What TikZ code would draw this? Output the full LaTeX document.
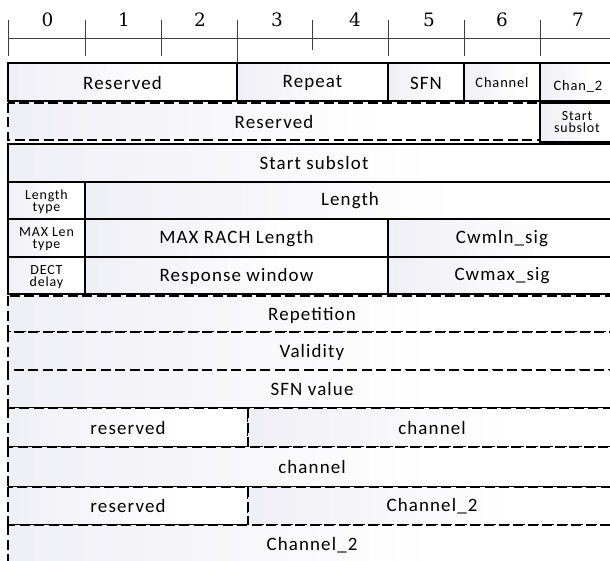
\documentclass[tikz,border=0pt]{standalone}
\usepackage{fontspec}
\newfontfamily\lab[LetterSpace=6]{Carlito}
\newfontfamily\numf{DejaVu Serif}
\definecolor{shd}{RGB}{222,222,236}
\pgfdeclarehorizontalshading{cellshade}{100bp}{color(0bp)=(shd); color(25bp)=(shd!50!white); color(60bp)=(white); color(100bp)=(white)}
\begin{document}
\begin{tikzpicture}[x=1bp,y=-1bp,
  box/.style={draw=black, line width=1.6bp, shading=cellshade},
  dbox/.style={box, dash pattern=on 10bp off 4.5bp, line width=1.5bp},
  big/.style={font=\lab\fontsize{19}{20}\selectfont},
  small/.style={font=\lab\fontsize{14.5}{15}\selectfont},
  tiny/.style={font=\lab\fontsize{14}{12.5}\selectfont, align=center, inner sep=0pt},
  num/.style={font=\numf\fontsize{18.5}{22}\selectfont},
  tick/.style={draw=black!75, line width=0.9bp}]
\useasboundingbox (0,0) rectangle (610,561);
% ruler
\draw[tick] (8,38) -- (616,38);
\foreach \x in {8,85,161,388,464,540} \draw[tick] (\x,20) -- (\x,56);
\draw[tick] (237,20) -- (237,63);
\draw[tick] (312,20) -- (312,50);
\foreach \i/\x in {0/47.5,1/124,2/200,3/277,4/355,5/429,6/502,7/578}
  \node[num] (n\i) at (\x,20) {\i};
% dashed rows (drawn first)
\draw[dbox] (8,103) rectangle (540,140);
\node[big] (rsv2) at (274,122) {Reserved};
\draw[dbox] (8,296) rectangle (616,332);
\node[big] (rep) at (312,315) {Repetition};
\draw[dbox] (8,332) rectangle (616,370);
\node[big] (val) at (312,352) {Validity};
\draw[dbox] (8,370) rectangle (616,408);
\node[big] (sfnv) at (312,389) {SFN value};
\draw[dbox] (8,408) rectangle (248,447);
\node[big] (rsv3) at (128,428) {reserved};
\draw[dbox] (248,408) rectangle (616,447);
\node[big] (ch1) at (432,428) {channel};
\draw[dbox] (8,447) rectangle (616,487);
\node[big] (ch2) at (312,467) {channel};
\draw[dbox] (8,487) rectangle (248,525);
\node[big] (rsv4) at (128,506) {reserved};
\draw[dbox] (248,487) rectangle (616,525);
\node[big] (c2a) at (432,506) {Channel\_2};
\draw[dbox] (8,525) rectangle (616,566);
\node[big] (c2b) at (312,545) {Channel\_2};
% row 1
\draw[box] (8,63) rectangle (237,101);
\node[big] (rsv1) at (122.5,83) {Reserved};
\draw[box] (237,63) rectangle (388,101);
\node[big] (rpt) at (312.5,83) {Repeat};
\draw[box] (388,63) rectangle (464,101);
\node[big] (sfn) at (426,83) {SFN};
\draw[box] (464,63) rectangle (540,101);
\node[small] (chn) at (502,83) {Channel};
\draw[box] (540,63) rectangle (616,101);
\node[small] (chn2) at (578,86) {Chan\_2};
% start subslot small box
\draw[box, line width=1.2bp] (540,103) rectangle (616,142);
\node[tiny] (ss1) at (577,122) {Start\\subslot};
% row 3
\draw[box] (8,144) rectangle (616,182);
\node[big] (ss) at (314,163) {Start subslot};
% row 4
\draw[box] (8,182) rectangle (85,219);
\node[tiny] (lt) at (46.5,202) {Length\\type};
\draw[box] (85,182) rectangle (616,219);
\node[big] (len) at (350,201) {Length};
% row 5
\draw[box] (8,219) rectangle (85,257);
\node[tiny] (mlt) at (46.5,239) {MAX Len\\type};
\draw[box] (85,219) rectangle (388,257);
\node[big] (mrl) at (236.5,239) {MAX RACH Length};
\draw[box] (388,219) rectangle (616,257);
\node[big] (cwmin) at (502,239) {Cwmln\_sig};
% row 6
\draw[box] (8,257) rectangle (85,294);
\node[tiny] (dd) at (46.5,277) {DECT\\delay};
\draw[box] (85,257) rectangle (388,294);
\node[big] (rw) at (236.5,276) {Response window};
\draw[box] (388,257) rectangle (616,294);
\node[big] (cwmax) at (502,276) {Cwmax\_sig};
\end{tikzpicture}
\end{document}
